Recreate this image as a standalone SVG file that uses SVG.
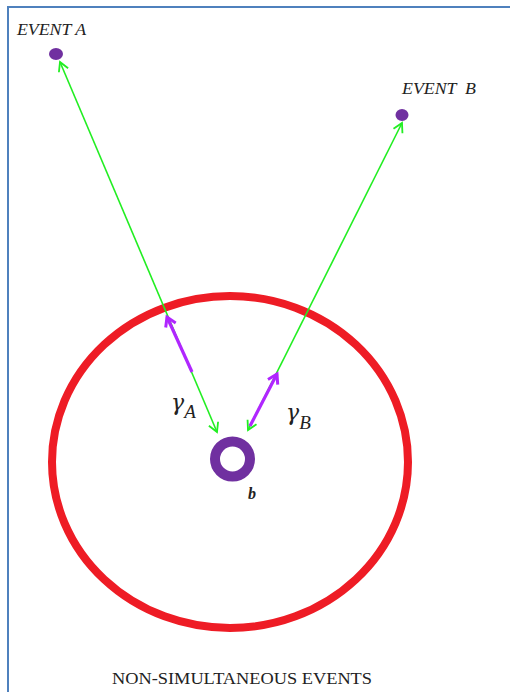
<svg xmlns="http://www.w3.org/2000/svg" width="510" height="692" viewBox="0 0 510 692">
  <style>
    .lbl { font-family: "Liberation Serif", "DejaVu Serif", serif; font-style: italic; fill: #222; }
    .gam { font-family: "DejaVu Serif", "Liberation Serif", serif; font-style: italic; fill: #222; }
    .title { font-family: "Liberation Serif", "DejaVu Serif", serif; font-size: 16px; fill: #222; }
    .green { stroke: #22ee22; stroke-width: 1.6; fill: none; }
    .purple { stroke: #b026ff; stroke-width: 3.2; fill: none; }
    .dot { fill: #7030a0; }
  </style>
  <defs>
    <marker id="ag" markerUnits="userSpaceOnUse" markerWidth="20" markerHeight="20" viewBox="-10 -10 20 20" refX="0" refY="0" orient="auto-start-reverse">
      <path d="M-9,-5 L0,0 L-9,5" fill="none" stroke="#22ee22" stroke-width="1.8"/>
    </marker>
    <marker id="ap" markerUnits="userSpaceOnUse" markerWidth="20" markerHeight="20" viewBox="-10 -10 20 20" refX="0" refY="0" orient="auto-start-reverse">
      <path d="M-9,-5.5 L0,0 L-9,5.5" fill="none" stroke="#b026ff" stroke-width="3"/>
    </marker>
  </defs>
  <rect width="510" height="692" fill="#ffffff"/>
  <g id="frame">
    <path d="M8,692 L8,7 L510,7" fill="none" stroke="#4f81bd" stroke-width="2"/>
  </g>
  <g id="horizon">
    <ellipse cx="230" cy="462" rx="178" ry="166" fill="none" stroke="#ee1c25" stroke-width="8"/>
  </g>
  <g id="connectors">
    <line class="green" x1="217" y1="432" x2="60" y2="62" marker-start="url(#ag)" marker-end="url(#ag)"/>
    <line class="purple" x1="192" y1="372" x2="167" y2="317" marker-end="url(#ap)"/>
    <line class="green" x1="248" y1="430" x2="402" y2="123" marker-start="url(#ag)" marker-end="url(#ag)"/>
    <line class="purple" x1="250" y1="426" x2="277" y2="374" marker-end="url(#ap)"/>
  </g>
  <g id="eventA">
    <ellipse class="dot" cx="56" cy="54" rx="7" ry="6"/>
    <text class="lbl" x="17" y="35" font-size="16" textLength="69" lengthAdjust="spacingAndGlyphs">EVENT A</text>
  </g>
  <g id="eventB">
    <ellipse class="dot" cx="402" cy="115" rx="6.5" ry="6"/>
    <text class="lbl" x="402" y="94" font-size="16" textLength="74" lengthAdjust="spacingAndGlyphs" xml:space="preserve">EVENT  B</text>
  </g>
  <g id="observer">
    <circle cx="232.5" cy="459" r="17.5" fill="none" stroke="#7030a0" stroke-width="10"/>
    <text x="248" y="499" font-family="Liberation Serif, DejaVu Serif, serif" font-style="italic" font-weight="bold" font-size="16" fill="#222">b</text>
  </g>
  <g id="gammaA">
    <text class="gam" x="171" y="410" font-size="22">γ<tspan class="lbl" font-size="19" dy="8">A</tspan></text>
  </g>
  <g id="gammaB">
    <text class="gam" x="286" y="420" font-size="22">γ<tspan class="lbl" font-size="19" dy="9">B</tspan></text>
  </g>
  <g id="caption">
    <text class="title" x="112" y="684" textLength="260" lengthAdjust="spacingAndGlyphs">NON-SIMULTANEOUS EVENTS</text>
  </g>
</svg>
